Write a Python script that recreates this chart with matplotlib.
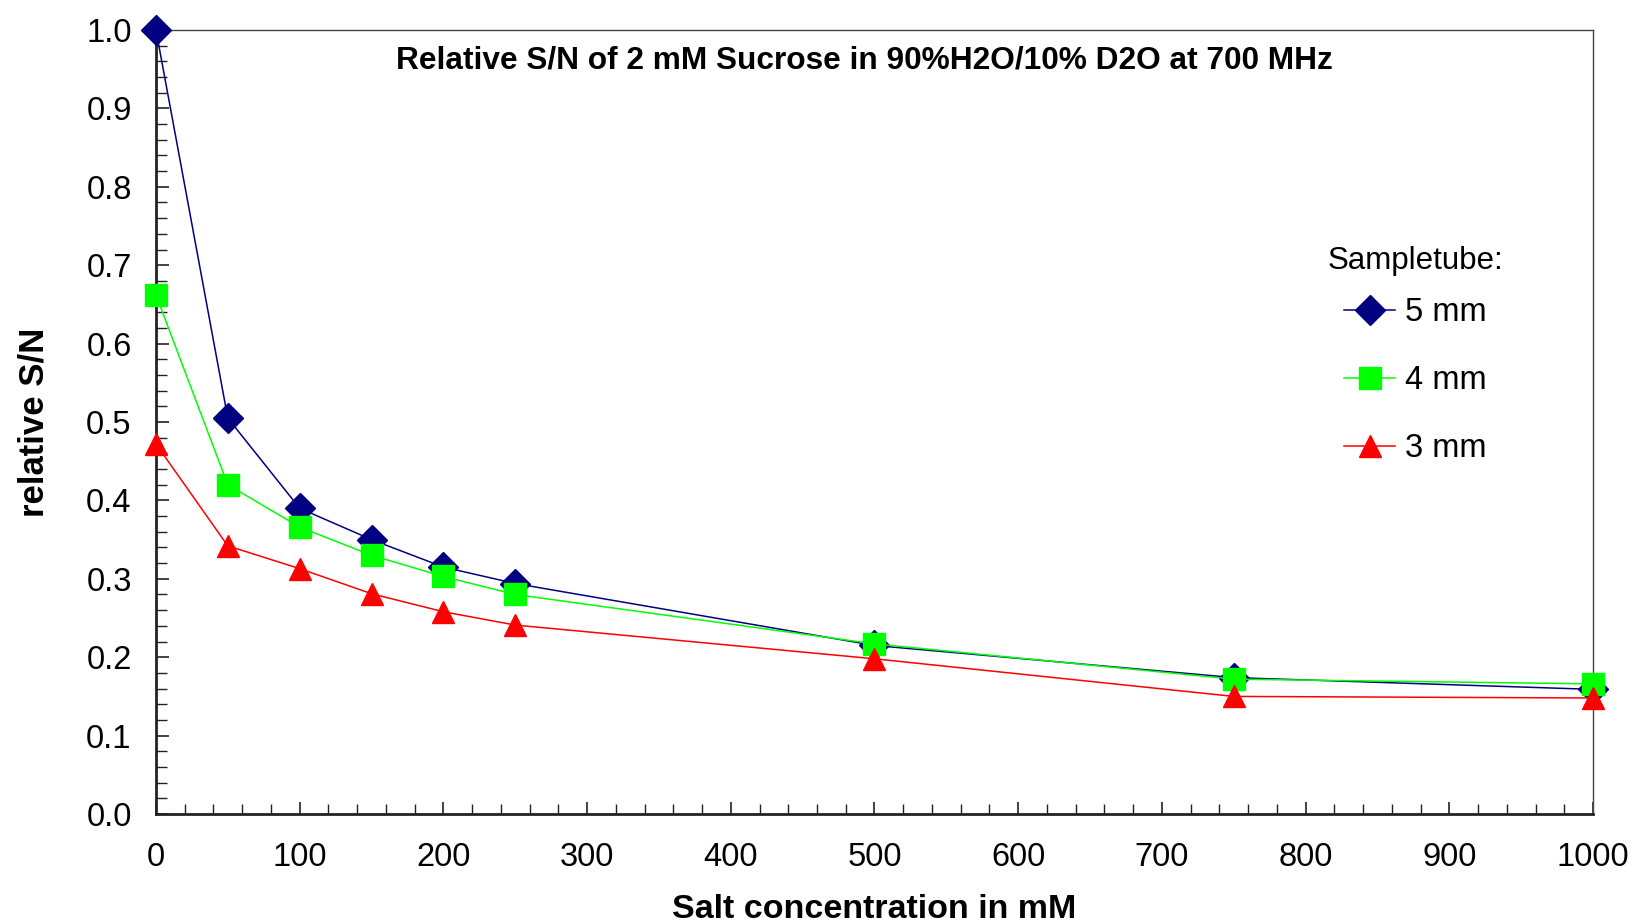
import matplotlib
matplotlib.use("Agg")
import matplotlib.pyplot as plt
from matplotlib.ticker import MultipleLocator, FormatStrFormatter

plt.rcParams['font.family'] = ['Liberation Sans', 'DejaVu Sans']

salt_mM = [0, 50, 100, 150, 200, 250, 500, 750, 1000]
sn_5mm = [1.000, 0.505, 0.390, 0.350, 0.315, 0.294, 0.215, 0.174, 0.159]
sn_4mm = [0.662, 0.420, 0.366, 0.330, 0.303, 0.280, 0.217, 0.172, 0.166]
sn_3mm = [0.472, 0.342, 0.313, 0.281, 0.258, 0.241, 0.198, 0.150, 0.148]
series_labels = ['5 mm', '4 mm', '3 mm']

fig = plt.figure(figsize=(16.33, 9.22), dpi=100)
ax = fig.add_axes([0.0955, 0.1171, 0.88, 0.8504])

ax.plot(salt_mM, sn_5mm, color='#000080', lw=1.1, marker='D', ms=15.5,
        mfc='#000080', mec='#000080', label=series_labels[0], clip_on=False, zorder=3)
ax.plot(salt_mM, sn_4mm, color='#00FF00', lw=1.1, marker='s', ms=15.5,
        mfc='#00FF00', mec='#00FF00', label=series_labels[1], clip_on=False, zorder=4)
ax.plot(salt_mM, sn_3mm, color='#FF0000', lw=1.1, marker='^', ms=16.5,
        mfc='#FF0000', mec='#FF0000', label=series_labels[2], clip_on=False, zorder=5)

ax.set_xlim(0, 1000)
ax.set_ylim(0, 1.0)
ax.xaxis.set_major_locator(MultipleLocator(100))
ax.xaxis.set_minor_locator(MultipleLocator(20))
ax.yaxis.set_major_locator(MultipleLocator(0.1))
ax.yaxis.set_minor_locator(MultipleLocator(0.02))
ax.yaxis.set_major_formatter(FormatStrFormatter('%.1f'))

ax.tick_params(which='both', direction='in', color='#222222')
ax.tick_params(axis='y', which='major', length=9, width=1.2, labelsize=23.5, pad=17.5)
ax.tick_params(axis='y', which='minor', length=8, width=1.0)
ax.tick_params(axis='x', which='major', length=9, width=1.2, labelsize=23.5, pad=20)
ax.tick_params(axis='x', which='minor', length=7, width=1.0)

for s in ['left', 'bottom']:
    ax.spines[s].set_linewidth(2.0)
    ax.spines[s].set_color('#222222')
for s in ['top', 'right']:
    ax.spines[s].set_linewidth(1.0)
    ax.spines[s].set_color('#444444')

ax.set_xlabel('Salt concentration in mM', fontsize=24.5, fontweight='bold', labelpad=15)
ax.set_ylabel('relative S/N', fontsize=25, fontweight='bold', labelpad=25.5)

ax.text(0.493, 0.961, 'Relative S/N of 2 mM Sucrose in 90%H2O/10% D2O at 700 MHz',
        transform=ax.transAxes, ha='center', va='center', fontsize=22.8, fontweight='bold')

ax.text(0.8156, 0.705, 'Sampletube:', transform=ax.transAxes, ha='left', va='center',
        fontsize=22.5)
leg = ax.legend(loc='upper left', bbox_to_anchor=(0.827, 0.659), borderaxespad=0,
                frameon=False, fontsize=23.5, borderpad=0,
                handlelength=1.56, labelspacing=1.13, handletextpad=0.3)

fig.savefig('out.png', dpi=100, facecolor='white')
